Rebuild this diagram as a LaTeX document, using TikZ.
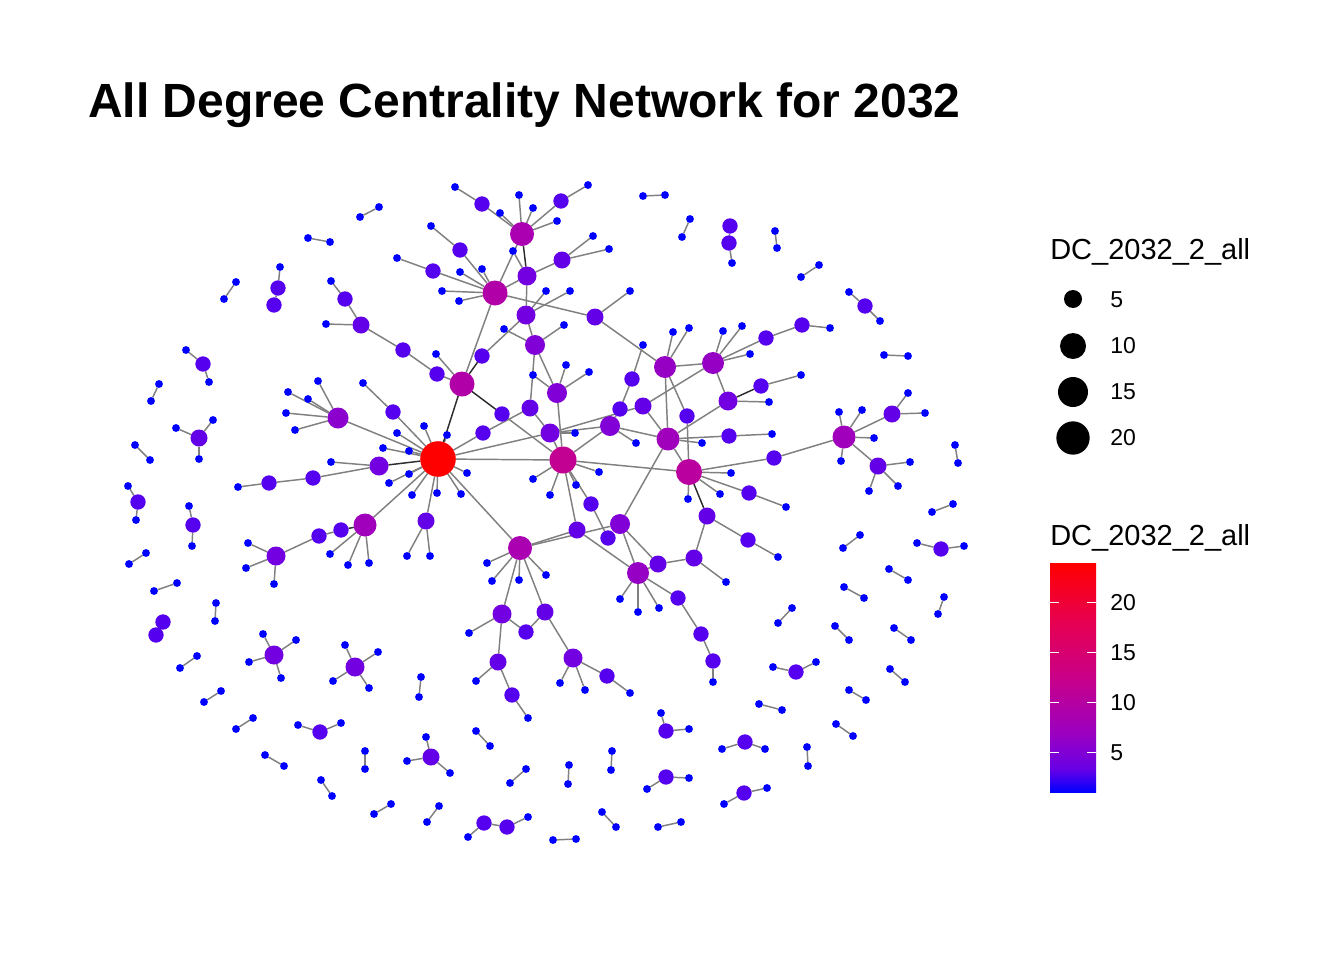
\documentclass[tikz,border=0pt]{standalone}
\usepackage{fontspec}
\setmainfont{Liberation Sans}
\pgfdeclarelayer{bg}
\pgfdeclarelayer{edges}
\pgfsetlayers{bg,edges,main}
\definecolor{c1}{RGB}{0,0,255}
\definecolor{c2}{RGB}{85,0,238}
\definecolor{c3}{RGB}{100,0,232}
\definecolor{c4}{RGB}{115,0,225}
\definecolor{c5}{RGB}{128,0,215}
\definecolor{c6}{RGB}{140,0,205}
\definecolor{c7}{RGB}{150,0,196}
\definecolor{c8}{RGB}{160,0,187}
\definecolor{c9}{RGB}{170,0,178}
\definecolor{c10}{RGB}{178,0,168}
\definecolor{c11}{RGB}{186,0,158}
\definecolor{c12}{RGB}{194,0,145}
\definecolor{cH}{RGB}{255,0,0}
\definecolor{sA}{RGB}{104,0,230}
\definecolor{sB}{RGB}{154,0,194}
\definecolor{sC}{RGB}{201,0,137}
\definecolor{sD}{RGB}{232,0,79}
\definecolor{edgegray}{RGB}{128,128,128}
\definecolor{edgedark}{RGB}{45,45,45}
\pgfdeclareverticalshading{dcbar}{100bp}{color(0bp)=(c1); color(25bp)=(c1); color(30bp)=(sA); color(37.5bp)=(sB); color(50bp)=(sC); color(62.5bp)=(sD); color(75bp)=(cH); color(100bp)=(cH)}
\begin{document}
\begin{tikzpicture}[x=0.75pt,y=-0.75pt,
  vb/.style={circle,inner sep=0pt,outer sep=0pt,draw=none},
  v1/.style={vb,fill=c1,minimum size=5.9pt},
  v2/.style={vb,fill=c2,minimum size=11.5pt},
  v3/.style={vb,fill=c3,minimum size=12.75pt},
  v4/.style={vb,fill=c4,minimum size=14.25pt},
  v5/.style={vb,fill=c5,minimum size=15pt},
  v6/.style={vb,fill=c6,minimum size=15.75pt},
  v7/.style={vb,fill=c7,minimum size=16.5pt},
  v8/.style={vb,fill=c8,minimum size=17.25pt},
  v9/.style={vb,fill=c9,minimum size=18pt},
  v10/.style={vb,fill=c10,minimum size=18.75pt},
  v11/.style={vb,fill=c11,minimum size=19.5pt},
  v12/.style={vb,fill=c12,minimum size=20.25pt},
  vH/.style={vb,fill=cH,minimum size=26.7pt},
  ed/.style={draw=edgegray,line width=1.1pt},
  edk/.style={draw=edgedark,line width=1.1pt},
  lgdot/.style={circle,fill=black,inner sep=0pt},
  lgtxt/.style={anchor=west,inner sep=0pt,font=\fontsize{17.25}{20}\selectfont},
  lgtitle/.style={anchor=base west,inner sep=0pt,font=\fontsize{21.75}{24}\selectfont}]
\useasboundingbox (0,0) rectangle (1344,960);
\begin{pgfonlayer}{bg}
\fill[white] (0,0) rectangle (1344,960);
\end{pgfonlayer}
\node[anchor=base west,inner sep=0pt,font=\fontsize{36}{40}\selectfont\bfseries] (title) at (88,117) {All Degree Centrality Network for 2032};

% ---------- isolated pairs ----------
\foreach \n/\xa/\ya/\xb/\yb in {pA/360/217/379/207,pB/308/238/330/242,pC/236/282/224/299,pD/159/384/151/401,pE/135/445/150/460,pF/146/553/129/564,pG/177/583/154/591,pH/216/603/215/621,pI/197/656/180/668,pJ/221/691/204/702,pK/253/718/236/729,pL/365/751/365/769,pM/265/755/284/766,pN/321/780/332/796,pO/391/804/374/814,pP/421/677/419/697,pQ/476/731/490/746,pR/526/769/510/783,pS/569/765/568/784,pT/612/751/611/770,pU/439/806/427/822,pV/553/840/576/839,pW/602/812/616/827,pX/658/827/681/822,pY/778/623/792/608,pZ/835/626/849/640,qA/894/628/911/640,qB/890/669/905/682,qC/849/690/866/700,qD/759/704/782/710,qE/836/724/853/736,qF/807/747/808/766,qG/944/597/938/614,qH/889/569/908/580,qI/844/587/864/598,qJ/860/535/843/548,qK/953/504/932/512,qL/955/445/958/463,qM/884/355/908/356,qN/819/265/801/277,qO/775/231/777/248,qP/690/219/682/237,qQ/643/196/665/195}{
  \node[v1] (\n a) at (\xa,\ya) {};
  \node[v1] (\n b) at (\xb,\yb) {};
  \begin{pgfonlayer}{edges}\draw[ed] (\n a) -- (\n b);\end{pgfonlayer}
}
\node[v2] (qq1) at (163,622) {};
\node[v2] (qq2) at (156,635) {};
\begin{pgfonlayer}{edges}\draw[ed] (qq1) -- (qq2);\end{pgfonlayer}

% ---------- chains of three: end, middle, end ----------
\foreach \n/\xa/\ya/\sb/\xb/\yb/\sc/\xc/\yc in {kA/280/267/v2/278/288/v2/274/305,kB/732/263/v2/729/243/v2/730/226,kC/849/292/v2/865/306/v1/880/321,kD/917/543/v2/941/549/v1/964/546,kE/773/667/v2/796/672/v1/816/662,kF/722/749/v2/745/742/v1/765/749,kG/724/804/v2/744/793/v1/767/788,kH/661/713/v2/666/731/v1/689/729,kI/647/789/v2/666/777/v1/689/778,kJ/298/725/v2/320/732/v1/341/723,kK/128/486/v2/138/502/v1/136/520,kL/189/506/v2/193/525/v1/192/546,kM/186/350/v2/203/364/v1/209/382}{
  \node[v1] (\n a) at (\xa,\ya) {};
  \node[\sb] (\n b) at (\xb,\yb) {};
  \node[\sc] (\n c) at (\xc,\yc) {};
  \begin{pgfonlayer}{edges}\draw[ed] (\n a) -- (\n b) -- (\n c);\end{pgfonlayer}
}
\node[v1] (kNa) at (468,837) {};
\node[v2] (kNb) at (484,823) {};
\node[v2] (kNc) at (507,827) {};
\node[v1] (kNd) at (528,817) {};
\begin{pgfonlayer}{edges}\draw[ed] (kNa) -- (kNb) -- (kNc) -- (kNd);\end{pgfonlayer}

% ---------- small stars ----------
\node[v3] (sa) at (199,438) {};
\foreach \i/\x/\y in {1/176/428,2/213/420,3/199/459}{\node[v1] (sa\i) at (\x,\y) {};
  \begin{pgfonlayer}{edges}\draw[ed] (sa) -- (sa\i);\end{pgfonlayer}}
\node[v4] (sb) at (274,655) {};
\foreach \i/\x/\y in {1/263/634,2/296/640,3/249/662,4/281/678}{\node[v1] (sb\i) at (\x,\y) {};
  \begin{pgfonlayer}{edges}\draw[ed] (sb) -- (sb\i);\end{pgfonlayer}}
\node[v4] (sc) at (355,667) {};
\foreach \i/\x/\y in {1/345/645,2/378/652,3/333/681,4/369/688}{\node[v1] (sc\i) at (\x,\y) {};
  \begin{pgfonlayer}{edges}\draw[ed] (sc) -- (sc\i);\end{pgfonlayer}}
\node[v3] (sd) at (431,757) {};
\foreach \i/\x/\y in {1/426/737,2/407/761,3/450/773}{\node[v1] (sd\i) at (\x,\y) {};
  \begin{pgfonlayer}{edges}\draw[ed] (sd) -- (sd\i);\end{pgfonlayer}}

% ---------- main component: nodes ----------
\node[vH] (H) at (438,459) {};
\node[v6] (A) at (338,418) {};
\node[v8] (E2) at (365,525) {};
\node[v10] (L2) at (462,384) {};
\node[v10] (L) at (495,293) {};
\node[v9] (T) at (522,234) {};
\node[v12] (C) at (563,460) {};
\node[v9] (B) at (520,548) {};
\node[v11] (R) at (689,472) {};
\node[v8] (G) at (668,439) {};
\node[v7] (P) at (665,367) {};
\node[v7] (N) at (713,363) {};
\node[v8] (EE) at (844,437) {};
\node[v7] (F) at (638,573) {};
\node[v4] (Dn) at (379,466) {};
\node[v3] (I2) at (426,521) {};
\node[v4] (U) at (527,276) {};
\node[v3] (V) at (562,260) {};
\node[v4] (W) at (526,315) {};
\node[v5] (Y) at (535,345) {};
\node[v5] (Q) at (557,393) {};
\node[v3] (J2) at (530,408) {};
\node[v2] (hq) at (483,433) {};
\node[v2] (O2) at (502,414) {};
\node[v2] (X) at (482,356) {};
\node[v3] (Z) at (595,317) {};
\node[v4] (K) at (550,433) {};
\node[v5] (M) at (610,426) {};
\node[v2] (m1) at (620,409) {};
\node[v2] (m2) at (632,379) {};
\node[v1] (m2a) at (643,345) {};
\node[v3] (m3) at (643,406) {};
\node[v2] (pr) at (687,416) {};
\node[v4] (N4) at (728,401) {};
\node[v3] (J) at (577,530) {};
\node[v5] (S) at (620,524) {};
\node[v3] (s1) at (658,564) {};
\node[v3] (s2) at (694,558) {};
\node[v3] (r7) at (707,516) {};
\node[v4] (B1) at (502,614) {};
\node[v3] (B2) at (545,612) {};
\node[v2] (b3) at (526,632) {};
\node[v3] (b4) at (498,662) {};
\node[v2] (b6) at (512,695) {};
\node[v4] (b5) at (573,658) {};
\node[v2] (b7) at (607,676) {};
\node[v3] (ea) at (892,414) {};
\node[v3] (eb) at (878,466) {};

% leaves and chain members
\foreach \n/\s/\x/\y in {a1/v1/318/381,a2/v1/288/392,a3/v1/308/399,a4/v1/286/413,a5/v1/295/430,
  hc1/v1/363/383,hc2/v2/393/412,
  hs1/v1/397/433,hs2/v1/383/448,hs3/v1/409/451,hs4/v1/409/474,hs5/v1/389/483,hs6/v1/412/495,hs7/v1/424/426,hs8/v1/447/435,hs9/v1/437/493,hs10/v1/461/494,hs11/v1/467/473,
  dn1/v1/331/462,dn2/v2/313/478,dn3/v2/269/483,dn4/v1/238/487,
  e1/v2/341/530,e2/v2/319/536,e3/v4/276/556,e4/v1/248/543,e5/v1/246/568,e6/v1/274/584,e7/v1/330/554,e8/v1/348/565,e9/v1/369/563,
  i1/v1/407/556,i2/v1/430/556,
  l2a/v2/437/374,l2b/v2/403/350,l2c/v3/361/325,l2d/v2/345/299,l2e/v1/331/281,l2f/v1/326/324,l2g/v1/436/354,
  la/v2/460/250,lb/v1/431/226,lc/v2/433/271,ld/v1/397/258,le/v1/460/272,lf/v1/482/269,lg/v1/442/291,lh/v1/459/301,
  t1/v2/482/204,t1a/v1/455/187,t3/v1/500/213,t4/v1/519/195,t5/v1/533/208,t6/v1/557/221,t2/v2/561/201,t2a/v1/588/185,
  u1/v1/513/251,vn1/v1/593/236,vn2/v1/609/249,w1/v1/546/291,w2/v1/570/291,y1/v1/504/329,y2/v1/564/325,
  qn1/v1/533/375,qn2/v1/566/365,qn3/v1/589/372,z1/v1/630/291,k1/v1/575/433,m0/v1/636/443,
  p1/v1/673/332,p2/v1/689/328,
  nn1/v1/723/331,nn2/v1/742/326,nn3/v2/766/338,nn4/v2/802/325,nn5/v1/830/328,nn6/v1/750/354,
  n4a/v1/769/402,n4b/v2/761/386,n4c/v1/801/375,
  g1/v1/702/443,g2/v2/729/436,g3/v1/772/434,
  c3/v1/533/479,c4/v1/550/495,c5/v1/576/485,c6/v1/599/472,cc1/v2/591/504,cc2/v2/608/538,
  bs1/v1/487/563,bs2/v1/492/581,bs3/v1/519/580,bs4/v1/546/575,
  s2a/v1/726/582,f5/v1/620/599,f6/v1/638/612,f7/v1/659/608,f1/v2/678/598,f2/v2/701/634,f3/v2/713/661,f4/v1/713/682,
  r1/v2/774/458,r3/v1/731/473,r4/v1/720/494,r2/v2/749/493,r2a/v1/786/507,r5/v1/688/499,r8/v2/748/540,r8a/v1/778/557,
  ee1/v1/839/412,ee2/v1/862/410,ee3/v1/874/438,ee4/v1/841/461,ea1/v1/925/413,ea2/v1/908/393,eb1/v1/910/462,eb2/v1/869/491,eb3/v1/898/486,
  b1a/v1/469/633,b4a/v1/476/681,b6a/v1/528/718,b5a/v1/560/683,b5b/v1/585/690,b7a/v1/630/693}{
  \node[\s] (\n) at (\x,\y) {};
}

% ---------- main component: edges ----------
\begin{pgfonlayer}{edges}
\foreach \a/\b in {H/A,A/a1,A/a2,A/a3,A/a4,A/a5,hc1/hc2,hc2/H,
  H/hs1,H/hs2,H/hs3,H/hs4,H/hs5,H/hs6,H/hs7,H/hs8,H/hs9,H/hs10,H/hs11,
  Dn/dn1,Dn/dn2,dn2/dn3,dn3/dn4,H/E2,e1/e2,e2/e3,e3/e4,e3/e5,e3/e6,E2/e7,E2/e8,E2/e9,
  H/I2,I2/i1,I2/i2,L2/l2a,l2a/l2b,l2b/l2c,l2c/l2d,l2d/l2e,l2c/l2f,L2/l2g,X/W,O2/C,L2/L,
  L/la,la/lb,L/lc,lc/ld,L/le,L/lf,L/lg,L/lh,L/T,L/U,L/Z,
  T/t1,t1/t1a,T/t3,T/t4,T/t5,T/t6,T/t2,t2/t2a,U/u1,U/V,V/vn1,V/vn2,U/W,W/w1,W/w2,W/Y,
  Y/y1,Y/y2,Y/Q,Y/J2,Q/qn1,Q/qn2,Q/qn3,Q/C,J2/hq,hq/H,J2/K,H/K,K/k1,K/C,K/M,K/m3,
  M/C,M/m0,M/m1,m1/m2,m2/m2a,M/G,m3/N,m3/G,Z/z1,Z/P,P/p1,P/p2,P/N,P/G,P/pr,pr/R,
  N/nn1,N/nn2,N/nn3,nn3/nn4,nn4/nn5,N/nn6,N/N4,N4/G,N4/n4a,n4b/n4c,G/g1,G/g2,g2/g3,G/R,G/S,
  H/C,C/c3,C/c4,C/c5,C/c6,C/cc1,cc1/cc2,C/R,C/J,J/B,J/F,H/B,B/S,B/bs1,B/bs2,B/bs3,B/bs4,B/B1,B/B2,
  S/F,S/s1,s1/F,s1/s2,s2/r7,s2/s2a,F/f5,F/f6,F/f7,F/f1,f1/f2,f2/f3,f3/f4,
  R/r1,r1/EE,R/r3,R/r4,R/r2,r2/r2a,R/r5,r7/r8,r8/r8a,
  EE/ee1,EE/ee2,EE/ee3,EE/ee4,EE/ea,ea/ea1,ea/ea2,EE/eb,eb/eb1,eb/eb2,eb/eb3,
  B1/b1a,B1/b3,B2/b3,B1/b4,b4/b4a,b4/b6,b6/b6a,B2/b5,b5/b5a,b5/b5b,b5/b7,b7/b7a}{
  \draw[ed] (\a) -- (\b);
}
\foreach \a/\b in {H/Dn,E2/e1,H/L2,L2/X,L2/O2,T/U,R/r7,N4/n4b}{
  \draw[edk] (\a) -- (\b);
}
\end{pgfonlayer}

% ---------- legend: size ----------
\node[lgtitle] (lt1) at (1050,259) {DC\_2032\_2\_all};
\node[lgdot,minimum size=13.5pt] (ls5) at (1073,299) {};
\node[lgdot,minimum size=19.5pt] (ls10) at (1073,346) {};
\node[lgdot,minimum size=22.5pt] (ls15) at (1073,392) {};
\node[lgdot,minimum size=25pt] (ls20) at (1073,438) {};
\node[lgtxt] (lx5) at (1110,300) {5};
\node[lgtxt] (lx10) at (1110,346) {10};
\node[lgtxt] (lx15) at (1110,392) {15};
\node[lgtxt] (lx20) at (1110,438) {20};

% ---------- legend: colour ----------
\node[lgtitle] (lt2) at (1050,545) {DC\_2032\_2\_all};
\shade[shading=dcbar] (1050,563) rectangle (1096,792);
\foreach \v/\lab in {602.8/20,652.6/15,702.4/10,752.2/5}{
  \draw[white,line width=0.8pt] (1050,\v) -- (1059,\v);
  \draw[white,line width=0.8pt] (1087,\v) -- (1096,\v);
  \node[lgtxt] at (1110,\v) {\lab};
}
\end{tikzpicture}
\end{document}
